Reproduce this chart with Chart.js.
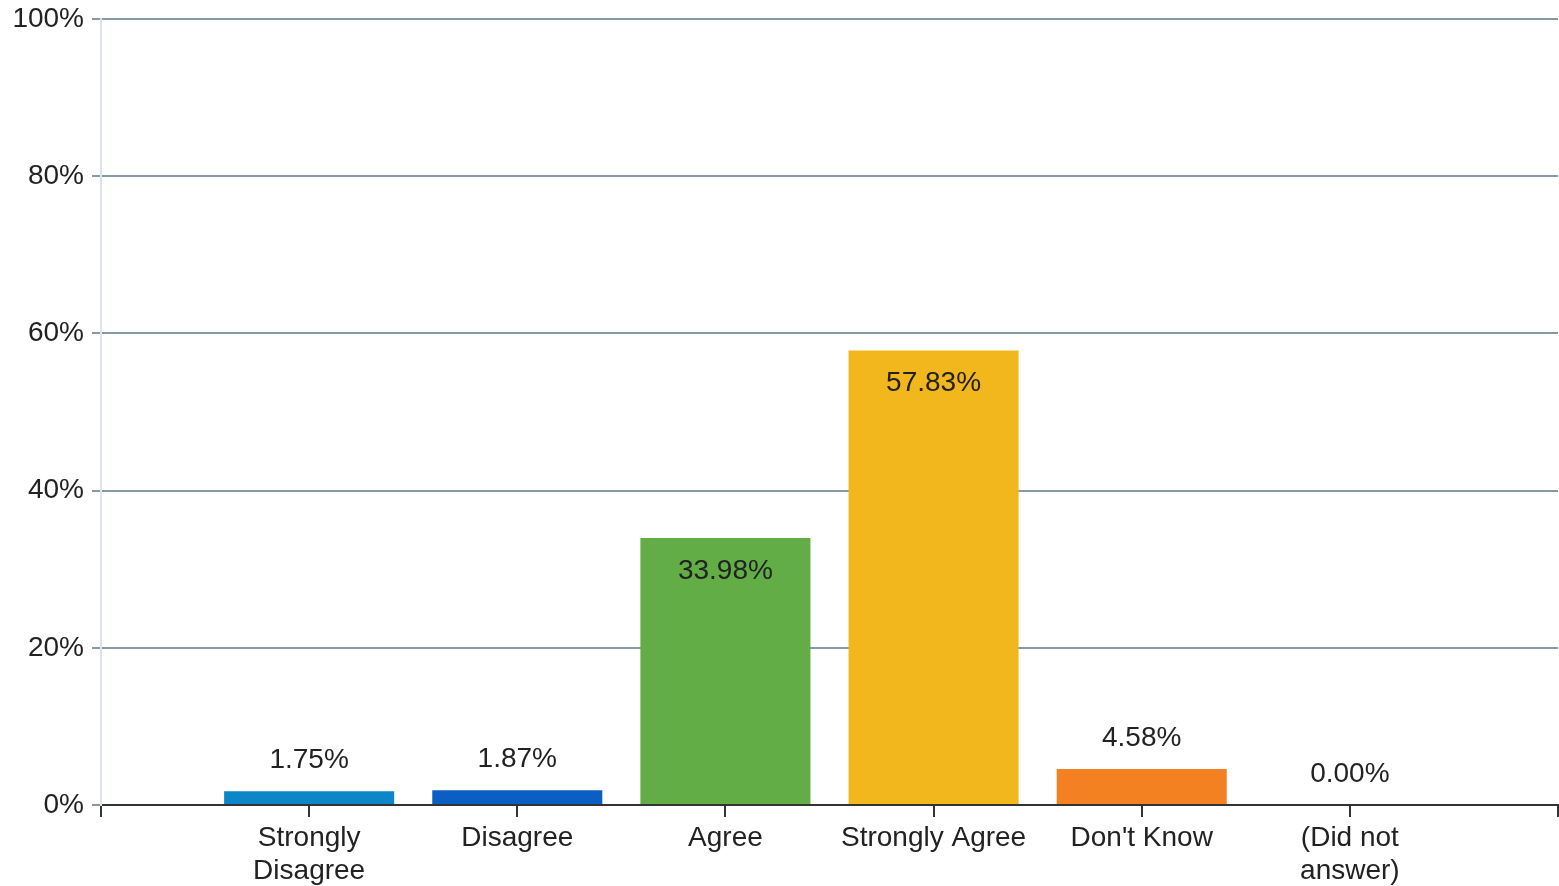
<!DOCTYPE html>
<html><head><meta charset="utf-8">
<script src="https://cdn.jsdelivr.net/npm/chart.js@4"></script>
<style>html,body{margin:0;padding:0;background:#fff;}#wrap{width:1559px;height:886px;}</style>
</head><body><div id="wrap"><canvas id="c"></canvas></div>
<script>
const categories = ['', ['Strongly', 'Disagree'], 'Disagree', 'Agree', 'Strongly Agree', "Don't Know", ['(Did not', 'answer)'], ''];
const values = [null, 1.75, 1.87, 33.98, 57.83, 4.58, 0.00, null];
const barColors = ['#fff', '#0d86c9', '#0b5fc2', '#62ad46', '#f2b71d', '#f38021', '#999', '#fff'];
const yTicks = [0, 20, 40, 60, 80, 100];
const FONT = '"Liberation Sans", Arial, sans-serif';

const labelPlugin = {
  id: 'vlabels',
  afterDatasetsDraw(chart) {
    const ctx = chart.ctx;
    const meta = chart.getDatasetMeta(0);
    ctx.save();
    ctx.font = '28px ' + FONT;
    ctx.fillStyle = '#222';
    ctx.textAlign = 'center';
    ctx.textBaseline = 'middle';
    meta.data.forEach((bar, i) => {
      const v = values[i];
      if (v === null) return;
      const txt = v.toFixed(2) + '%';
      const h = bar.base - bar.y;
      const y = h > 60 ? bar.y + 33 : bar.y - 31;
      ctx.fillText(txt, bar.x, y);
    });
    ctx.restore();
  }
};

new Chart(document.getElementById('c'), {
  type: 'bar',
  data: {
    labels: categories,
    datasets: [{
      data: values,
      backgroundColor: barColors,
      borderWidth: 0,
      categoryPercentage: 1,
      barPercentage: 0.817
    }]
  },
  options: {
    responsive: true,
    maintainAspectRatio: false,
    animation: false,
    layout: { padding: { top: 19, right: 1, left: 0, bottom: 0 } },
    plugins: { legend: { display: false }, tooltip: { enabled: false } },
    scales: {
      x: {
        offset: false,
        grid: { offset: false, drawOnChartArea: false, drawTicks: true, tickLength: 12, color: '#333', lineWidth: 2 },
        border: { display: true, color: '#333', width: 2 },
        ticks: { color: '#222', font: { family: FONT, size: 28 }, padding: 4, maxRotation: 0, autoSkip: false, lineHeight: 1.1 },
        afterFit(s) { s.height = 81; s.paddingLeft = 0; s.paddingRight = 0; }
      },
      y: {
        min: 0, max: 100,
        afterBuildTicks(s) { s.ticks = yTicks.map(v => ({ value: v })); },
        grid: { color: '#8899a6', lineWidth: 2, tickLength: 9 },
        border: { display: true, color: '#dde3ee', width: 2 },
        ticks: { color: '#222', font: { family: FONT, size: 28 }, padding: 8, callback: v => v + '%' },
        afterFit(s) { s.width = 101; s.paddingTop = 0; s.paddingBottom = 0; }
      }
    }
  },
  plugins: [labelPlugin]
});
</script>
</body></html>
